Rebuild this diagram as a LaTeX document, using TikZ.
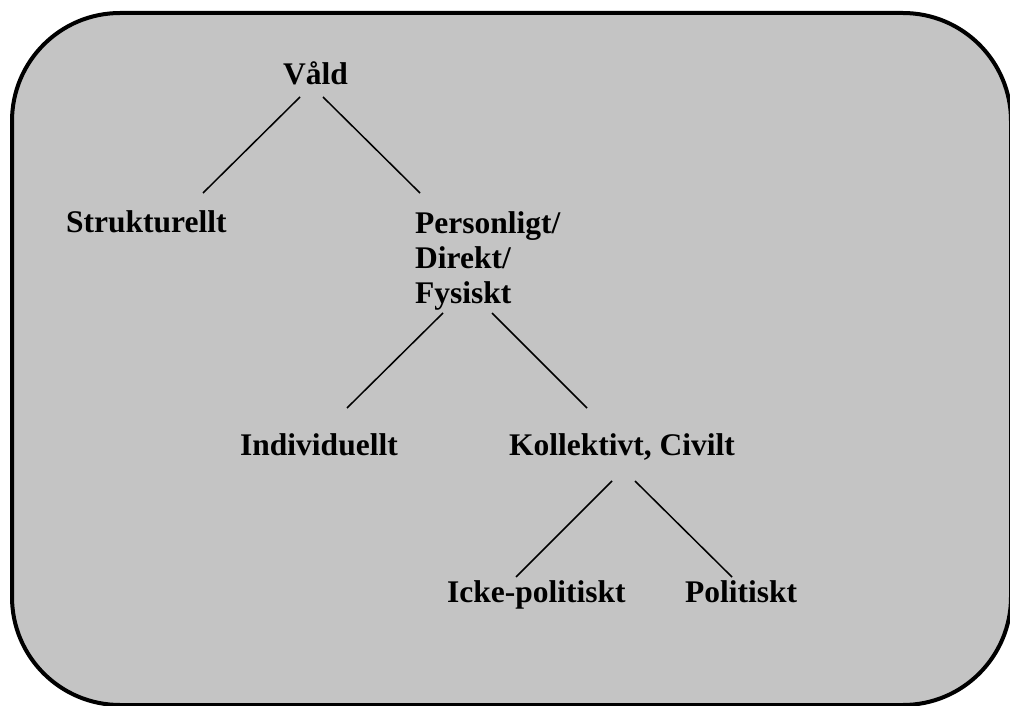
\documentclass[tikz,border=0pt]{standalone}
\usepackage{fontspec}
\setmainfont{Liberation Serif}
\usepackage{xcolor}
\usetikzlibrary{calc}

\definecolor{boxgray}{RGB}{196,196,196}
\tikzset{
  term/.style={anchor=base west,inner sep=0pt,font=\bfseries\fontsize{31.5}{35}\selectfont},
  branch/.style={line width=1.5pt}
}

\begin{document}
\begin{tikzpicture}[x=1pt,y=1pt,yscale=-1,xscale=1]
\useasboundingbox (0,0) rectangle (1010,706);
\clip (0,0) rectangle (1010,706);

%Shape: Rounded Rectangle
\draw [line width=4pt,fill=boxgray,rounded corners=108pt] (12,13) rectangle (1011,705);

% Text Node
\node [term] (vald) at (283,85) {Våld};
% Text Node
\node [term] (struk) at (66,233) {Strukturellt};
% Text Node (base = last line)
\node [term,align=left] (pers) at (415,303) {Personligt/\\Direkt/\\Fysiskt};
% Text Node
\node [term] (indiv) at (240,455) {Individuellt};
% Text Node
\node [term] (koll) at (509,455) {Kollektivt, Civilt};
% Text Node
\node [term] (icke) at (447,602) {Icke-politiskt};
% Text Node
\node [term] (polit) at (685,602) {Politiskt};

%Straight Lines
\draw [branch] ($(vald.base west)+(17,12)$) -- ($(struk.base west)+(137,-40)$);
%Straight Lines
\draw [branch] ($(vald.base west)+(40,12)$) -- ($(pers.base west)+(5,-110)$);
%Straight Lines
\draw [branch] ($(pers.base west)+(28,10)$) -- ($(indiv.base west)+(107,-47)$);
%Straight Lines
\draw [branch] ($(pers.base west)+(77,10)$) -- ($(koll.base west)+(78,-47)$);
%Straight Lines
\draw [branch] ($(koll.base west)+(103,26)$) -- ($(icke.base west)+(69,-25)$);
%Straight Lines
\draw [branch] ($(koll.base west)+(126,26)$) -- ($(polit.base west)+(47,-25)$);

\end{tikzpicture}
\end{document}
